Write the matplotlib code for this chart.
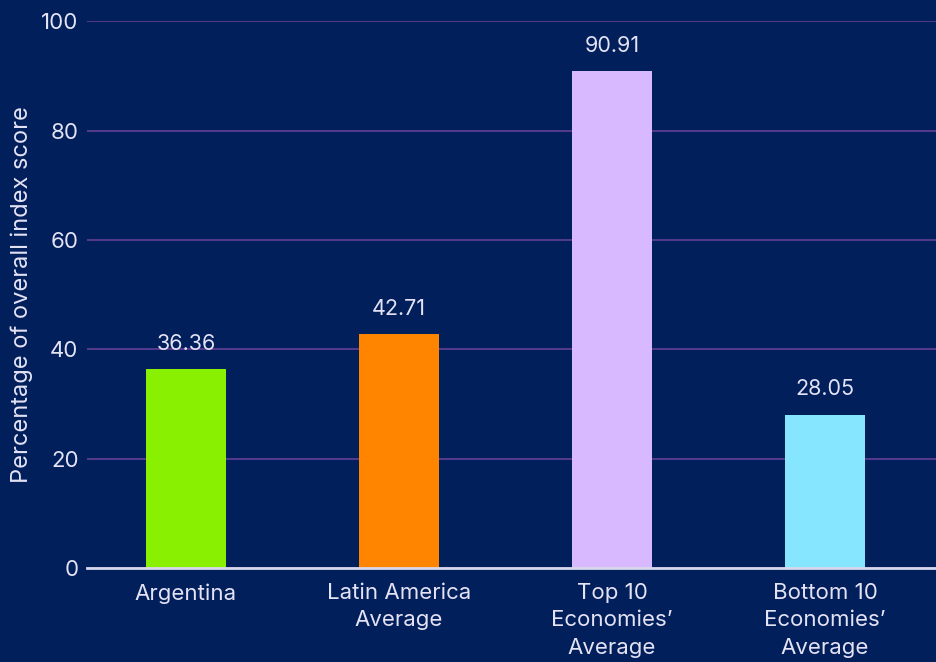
import matplotlib
matplotlib.use("Agg")
import matplotlib.pyplot as plt

# Index score as a share of the maximum, by group
categories = ["Argentina", "Latin America\nAverage", "Top 10\nEconomies\u2019\nAverage",
              "Bottom 10\nEconomies\u2019\nAverage"]
scores = [36.36, 42.71, 90.91, 28.05]
bar_colors = ["#88F000", "#FF8500", "#D8B9FF", "#86E5FF"]
yticks = [0, 20, 40, 60, 80, 100]

BG = "#011F5B"
TEXT = "#E4E2F4"
GRID = "#623F99"

plt.rcParams.update({
    "font.family": ["Inter", "DejaVu Sans"],
    "font.size": 16,
    "text.color": TEXT,
    "axes.labelcolor": TEXT,
    "xtick.color": TEXT,
    "ytick.color": TEXT,
})

fig = plt.figure(figsize=(9.37, 6.62), dpi=100, facecolor=BG)
ax = fig.add_axes([0.0928, 0.142, 0.9072, 0.826], facecolor=BG)

x = range(len(categories))
bars = ax.bar(x, scores, width=0.375, color=bar_colors, zorder=2)
for bar, val in zip(bars, scores):
    ax.annotate(f"{val:.2f}", (bar.get_x() + bar.get_width() / 2, val),
                xytext=(0, 11), textcoords="offset points",
                ha="center", va="bottom", fontsize=15.5, color=TEXT, zorder=4)

ax.set_xlim(-0.465, 3.526)
ax.set_ylim(0, 100)
ax.set_yticks(yticks)
ax.set_xticks(list(x))
ax.set_xticklabels(categories, linespacing=1.45)
ax.tick_params(axis="both", length=0, labelsize=16)
ax.tick_params(axis="y", pad=6)
ax.tick_params(axis="x", pad=11)

ax.yaxis.grid(True, color=GRID, linewidth=1.2, zorder=0)
ax.set_axisbelow(True)
for side in ["top", "right", "left"]:
    ax.spines[side].set_visible(False)
ax.spines["bottom"].set_color("#D8D8EC")
ax.spines["bottom"].set_linewidth(2)
ax.spines["bottom"].set_zorder(3)

ax.set_ylabel("Percentage of overall index score", fontsize=17, labelpad=6)

fig.savefig("out.png", dpi=100, facecolor=BG)
